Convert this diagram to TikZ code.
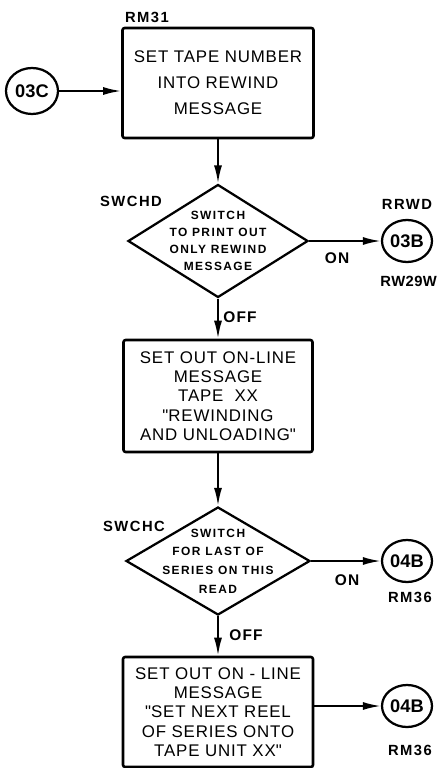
\documentclass[tikz,border=0pt]{standalone}
\usepackage{fontspec}
\setmainfont{Liberation Sans}
\usetikzlibrary{arrows.meta,shapes.geometric}
\tikzset{box/.style={draw,line width=1.8pt,rounded corners=1.5pt,align=center,
    inner sep=0pt,font=\fontsize{12}{13.8}\selectfont\addfontfeature{LetterSpace=5}},
  decision/.style={draw,diamond,line width=1.6pt,inner sep=0pt},
  dtext/.style={align=center,inner sep=0pt,
    font=\fontsize{8.5}{12}\bfseries\addfontfeature{LetterSpace=12}},
  conn/.style={draw,ellipse,line width=1.6pt,inner sep=0pt,minimum width=12.5mm,
    minimum height=10.5mm,font=\fontsize{13}{14}\bfseries},
  tag/.style={inner sep=0pt,font=\fontsize{10.5}{12}\bfseries\addfontfeature{LetterSpace=10}},
  flag/.style={inner sep=0pt,font=\fontsize{11}{12}\bfseries\addfontfeature{LetterSpace=8}},
  edge/.style={-{Latex[length=4.5mm,width=2mm]},line width=1.4pt}}

\begin{document}
\begin{tikzpicture}[x=1cm,y=1cm]
    \useasboundingbox (0,0) rectangle (10.975,-19.2);
    % entry and first box
    \node[box,minimum width=4.775cm,minimum height=2.75cm,
      font=\fontsize{12}{18.5}\selectfont\addfontfeature{LetterSpace=5}] (rm31) at (5.45,-2.075)
      {SET TAPE NUMBER\\INTO REWIND\\MESSAGE};
    \node[tag] (rm31tag) at (3.675,-0.425) {RM31};
    \node[conn,minimum width=13mm,minimum height=11.5mm] (c03c) at (0.8,-2.275) {03C};
    \draw[edge] (c03c) -- (c03c -| rm31.west);
    % first switch
    \node[decision,minimum width=4.5cm,minimum height=2.825cm] (swchd) at (5.45,-6.025) {};
    \node[dtext] (swchdtext) at (swchd) {SWITCH\\TO PRINT OUT\\ONLY REWIND\\MESSAGE};
    \node[tag] (swchdtag) at (3.275,-5.025) {SWCHD};
    \draw[edge] (rm31.south) -- (swchd.north);
    \node[conn] (c03b) at (10.175,-6.025) {03B};
    \node[tag] (rrwdtag) at (10.175,-5.1) {RRWD};
    \node[tag,anchor=east,font=\fontsize{10.5}{12}\bfseries\addfontfeature{LetterSpace=3}]
      (rw29wtag) at (10.93,-7.025) {RW29W};
    \draw[edge] (swchd.east) -- (c03b);
    \node[flag] (on1) at (8.425,-6.45) {ON};
    % on-line message
    \node[box,minimum width=4.725cm,minimum height=2.8cm] (online) at (5.45,-9.9)
      {SET OUT ON-LINE\\MESSAGE\\TAPE\ \ XX\\\textquotedbl REWINDING\\AND UNLOADING\textquotedbl};
    \draw[edge] (swchd.south) -- (online.north);
    \node[flag,anchor=west] (off1) at (5.575,-7.925) {OFF};
    % second switch
    \node[decision,minimum width=4.6cm,minimum height=2.7cm] (swchc) at (5.45,-14.025) {};
    \node[dtext,font=\fontsize{8.5}{13.3}\bfseries\addfontfeature{LetterSpace=12}] (swchctext) at (swchc)
      {SWITCH\\FOR LAST OF\\SERIES ON THIS\\READ};
    \node[tag] (swchctag) at (3.35,-13.15) {SWCHC};
    \draw[edge] (online.south) -- (swchc.north);
    \node[conn] (c04b) at (10.175,-14.025) {04B};
    \node[tag] (rm36tag) at (10.25,-14.925) {RM36};
    \draw[edge] (swchc.east) -- (c04b);
    \node[flag] (on2) at (8.675,-14.5) {ON};
    % next reel message
    \node[box,minimum width=4.75cm,minimum height=2.75cm] (nextreel) at (5.45,-17.8)
      {SET OUT ON - LINE\\MESSAGE\\\textquotedbl SET NEXT REEL\\OF SERIES ONTO\\TAPE UNIT XX\textquotedbl};
    \draw[edge] (swchc.south) -- (nextreel.north);
    \node[flag,anchor=west] (off2) at (5.725,-15.875) {OFF};
    \node[conn] (c04bb) at (10.175,-17.65) {04B};
    \node[tag] (rm36bbtag) at (10.25,-18.75) {RM36};
    \draw[edge] (c04bb -| nextreel.east) -- (c04bb);
\end{tikzpicture}
\end{document}
